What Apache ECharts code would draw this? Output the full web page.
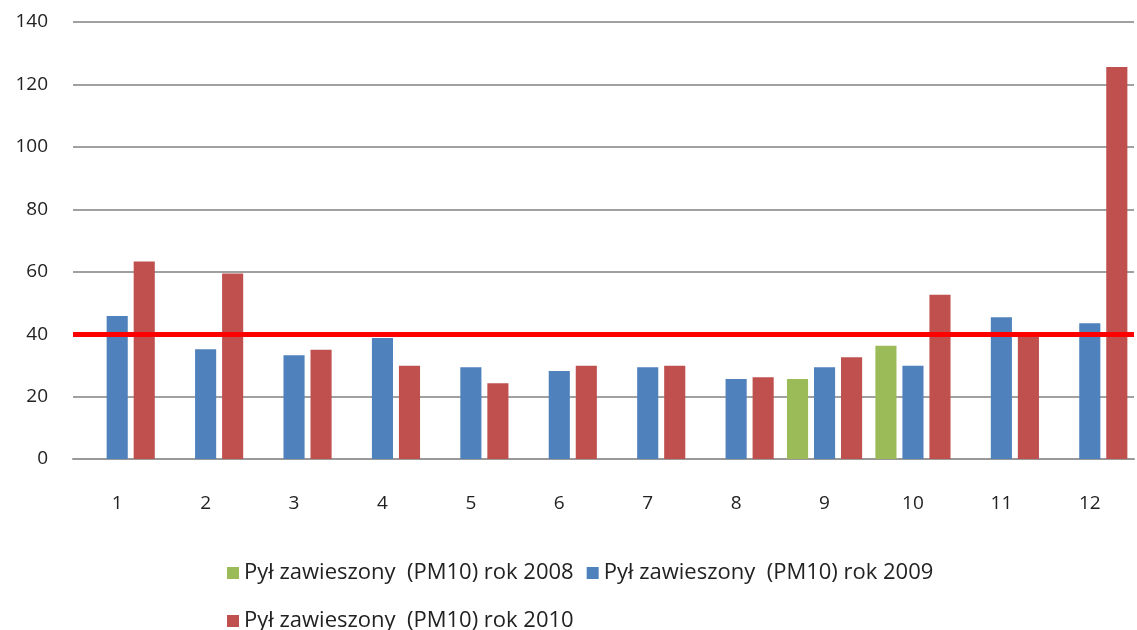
<!DOCTYPE html>
<html><head><meta charset="utf-8">
<script src="https://cdn.jsdelivr.net/npm/echarts@6/dist/echarts.min.js"></script>
<style>html,body{margin:0;padding:0;background:#fff}#c{width:1137px;height:630px}</style>
</head><body><div id="c"></div>
<script>
const categories = ['1','2','3','4','5','6','7','8','9','10','11','12'];
const name2008 = 'Pył zawieszony  (PM10) rok 2008';
const name2009 = 'Pył zawieszony  (PM10) rok 2009';
const name2010 = 'Pył zawieszony  (PM10) rok 2010';
const values2008 = [null,null,null,null,null,null,null,null,25.6,36.3,null,null];
const values2009 = [45.8,35.2,33.2,38.8,29.4,28.2,29.4,25.6,29.4,29.9,45.4,43.5];
const values2010 = [63.3,59.4,35.0,29.9,24.3,29.9,29.9,26.2,32.6,52.6,40.0,125.6];
const limitValue = 40;
const yTicks = {min:0, max:140, interval:20};

const font = '"Open Sans", sans-serif';
const chart = echarts.init(document.getElementById('c'), null, {renderer:'canvas'});
chart.setOption({
  animation:false,
  backgroundColor:'#fff',
  grid:{left:73, right:3, top:22, bottom:171},
  legend:[
    {data:[name2008,name2009], left:222, top:557, itemWidth:12, itemHeight:12, itemGap:13,
     icon:'rect', textStyle:{fontSize:22, color:'#222', fontFamily:font}},
    {data:[name2010], left:222, top:605, itemWidth:12, itemHeight:12, itemGap:13,
     icon:'rect', textStyle:{fontSize:22, color:'#222', fontFamily:font}}
  ],
  xAxis:{type:'category', data:categories,
    axisLine:{lineStyle:{color:'#999', width:2}}, axisTick:{show:false},
    axisLabel:{fontSize:19, color:'#222', fontFamily:font, margin:35}},
  yAxis:{type:'value', min:yTicks.min, max:yTicks.max, interval:yTicks.interval,
    axisLine:{show:false}, axisTick:{show:false},
    splitLine:{lineStyle:{color:'#a0a0a0', width:2}},
    axisLabel:{fontSize:19, color:'#222', fontFamily:font, margin:25}},
  series:[
    {name:name2008, type:'bar', data:values2008, itemStyle:{color:'#9BBB59'},
     barGap:'28%', barCategoryGap:'15%'},
    {name:name2009, type:'bar', data:values2009, itemStyle:{color:'#4F81BD'},
     barGap:'28%', barCategoryGap:'15%'},
    {name:name2010, type:'bar', data:values2010, itemStyle:{color:'#C0504D'},
     barGap:'28%', barCategoryGap:'15%',
     markLine:{silent:true, symbol:'none', label:{show:false},
       lineStyle:{color:'#FF0000', width:5, type:'solid'},
       data:[{yAxis:limitValue}]}}
  ]
});
</script></body></html>
